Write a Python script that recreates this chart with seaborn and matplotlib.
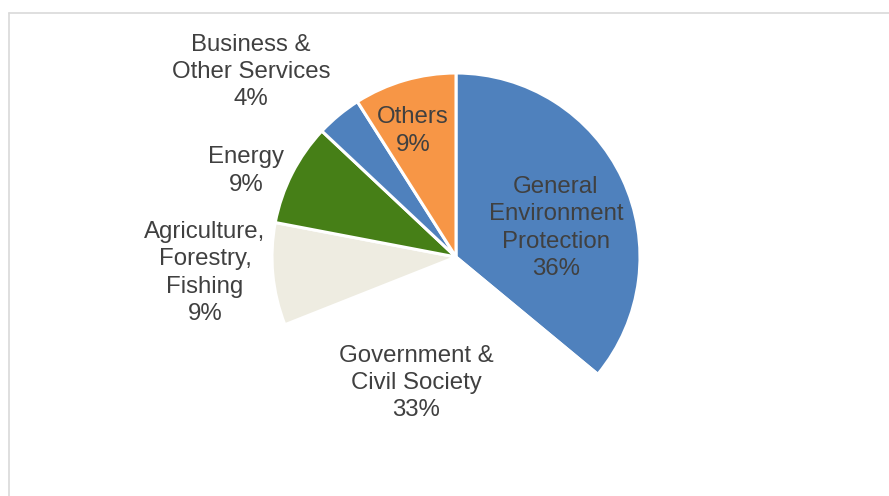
import matplotlib
matplotlib.use("Agg")
import matplotlib.pyplot as plt
import seaborn as sns
from matplotlib.lines import Line2D

sns.set_theme(style="white")
plt.rcParams['font.family'] = ['Liberation Sans', 'DejaVu Sans']

categories = ["General\nEnvironment\nProtection", "Government &\nCivil Society",
              "Agriculture,\nForestry,\nFishing", "Energy",
              "Business &\nOther Services", "Others"]
values = [36, 33, 9, 9, 4, 9]
colors = ["#4F81BD", "#FFFFFF", "#EEECE1", "#467F17", "#4F81BD", "#F79646"]
# label anchor positions in figure pixels (x from left, y from top)
label_pos = [(556, 228), (416, 383), (205, 273), (246, 171), (251, 72), (413, 131)]

W, H = 889, 496
fig = plt.figure(figsize=(W / 100, H / 100), dpi=100)
fig.patch.set_facecolor("white")
ax = fig.add_axes([0, 0, 1, 1])
ax.set_aspect("equal")

ax.pie(values, colors=colors, startangle=90, counterclock=False,
       center=(456, H - 257), radius=184, frame=True,
       wedgeprops=dict(edgecolor="white", linewidth=2.2))
ax.set_xlim(0, W)
ax.set_ylim(0, H)
ax.axis("off")

for cat, v, (x, y) in zip(categories, values, label_pos):
    ax.text(x, H - y, f"{cat}\n{v}%", ha="center", va="center",
            fontsize=17.3, color="#404040", linespacing=1.32)

# chart-area border (top and left visible)
fig.add_artist(Line2D([8.5 / W, 8.5 / W], [0, 1 - 12.5 / H], transform=fig.transFigure,
                      color="#D9D9D9", linewidth=1.2))
fig.add_artist(Line2D([8.5 / W, 1], [1 - 12.5 / H, 1 - 12.5 / H], transform=fig.transFigure,
                      color="#D9D9D9", linewidth=1.2))

fig.savefig("out.png", dpi=100, facecolor="white")
